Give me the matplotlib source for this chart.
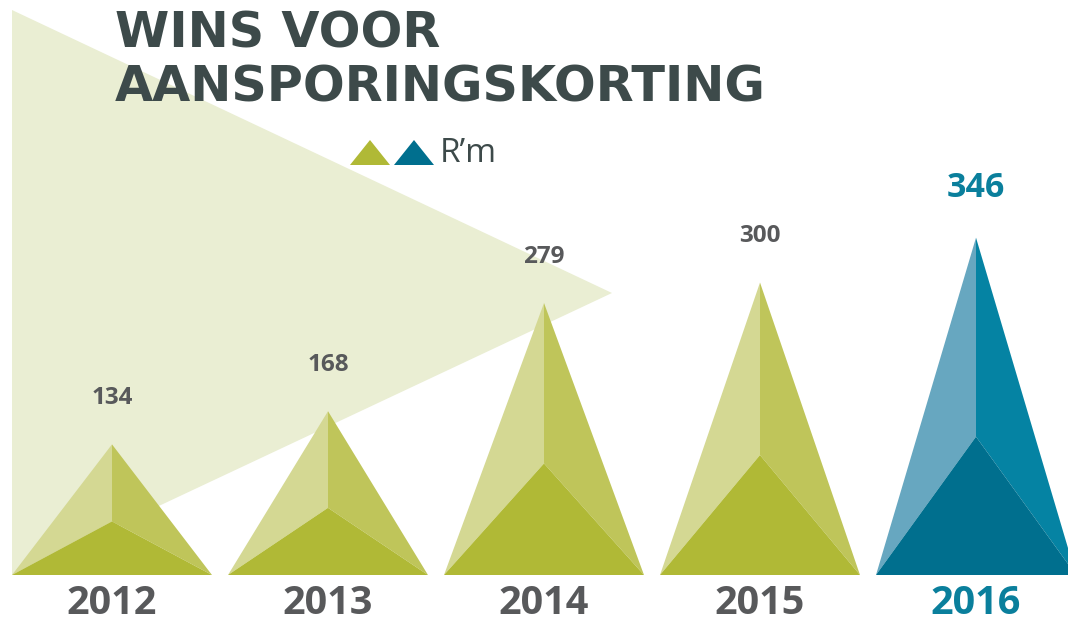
import matplotlib
matplotlib.use("Agg")
import matplotlib.pyplot as plt
from matplotlib.patches import Polygon

years = ["2012", "2013", "2014", "2015", "2016"]
values = [134, 168, 279, 300, 346]
highlight = [False, False, False, False, True]

title_lines = ["WINS VOOR", "AANSPORINGSKORTING"]
legend_label = "R\u2019m"

green = {"left": "#d4d893", "right": "#bfc55a", "front": "#b0b936"}
blue = {"left": "#67a7c0", "right": "#0583a3", "front": "#006f8e"}
grey_text = "#58595b"
blue_text = "#0a7f9c"
title_col = "#3d4a4a"

W, H = 1068, 625
fig = plt.figure(figsize=(W / 100, H / 100), dpi=100)
ax = fig.add_axes([0, 0, 1, 1])
ax.set_axis_off()

px_per_unit = 0.975
spacing = 216.0
x0 = 112.0
base_px = 575.0
ax.set_xlim(-x0 / spacing, (W - x0) / spacing)
ax.set_ylim(-(H - base_px) / px_per_unit, base_px / px_per_unit)

# background pale triangle (decorative), in axes fraction
bg = Polygon([(12 / W, 1 - 10 / H), (612 / W, 1 - 293 / H), (12 / W, 1 - 575 / H)],
             closed=True, transform=ax.transAxes, facecolor="#eaeed3", edgecolor="none", zorder=0)
ax.add_patch(bg)

hw = 100 / spacing
for i, (yr, v, hl) in enumerate(zip(years, values, highlight)):
    c = blue if hl else green
    inner = 0.41 * v
    left = Polygon([(i - hw, 0), (i, v), (i, inner)], closed=True, facecolor=c["left"], edgecolor="none", zorder=2)
    right = Polygon([(i + hw, 0), (i, v), (i, inner)], closed=True, facecolor=c["right"], edgecolor="none", zorder=2)
    front = Polygon([(i - hw, 0), (i, inner), (i + hw, 0)], closed=True, facecolor=c["front"], edgecolor="none", zorder=3)
    for p in (left, right, front):
        ax.add_patch(p)
    tcol = blue_text if hl else grey_text
    ax.annotate(str(v), (i, v), xytext=(0, 46 if not hl else 50), textcoords="offset pixels",
                ha="center", va="center", fontsize=17.5 if not hl else 24.5, fontweight="bold",
                color=tcol, family="Open Sans", zorder=5)
    ax.annotate(yr, (i, 0), xytext=(0, -29), textcoords="offset pixels",
                ha="center", va="center", fontsize=28.5, fontweight="bold",
                color=tcol, family="Open Sans", zorder=5)

# title
fig.text(115 / W, 1 - 33 / H, title_lines[0], ha="left", va="center", fontsize=35.5,
         fontweight="heavy", color=title_col, family="DejaVu Sans", zorder=6)
fig.text(115 / W, 1 - 87 / H, title_lines[1], ha="left", va="center", fontsize=35.5,
         fontweight="heavy", color=title_col, family="DejaVu Sans", zorder=6)

# legend
for (xa, col) in ((350, green["front"]), (394, blue["front"])):
    tri = Polygon([(xa / W, 1 - 165 / H), ((xa + 20) / W, 1 - 140 / H), ((xa + 40) / W, 1 - 165 / H)],
                  closed=True, transform=fig.transFigure, facecolor=col, edgecolor="none", zorder=6)
    fig.patches.append(tri)
fig.text(440 / W, 1 - 153 / H, legend_label, ha="left", va="center", fontsize=24,
         color=title_col, family="Open Sans", zorder=6)

fig.savefig("out.png", dpi=100)
